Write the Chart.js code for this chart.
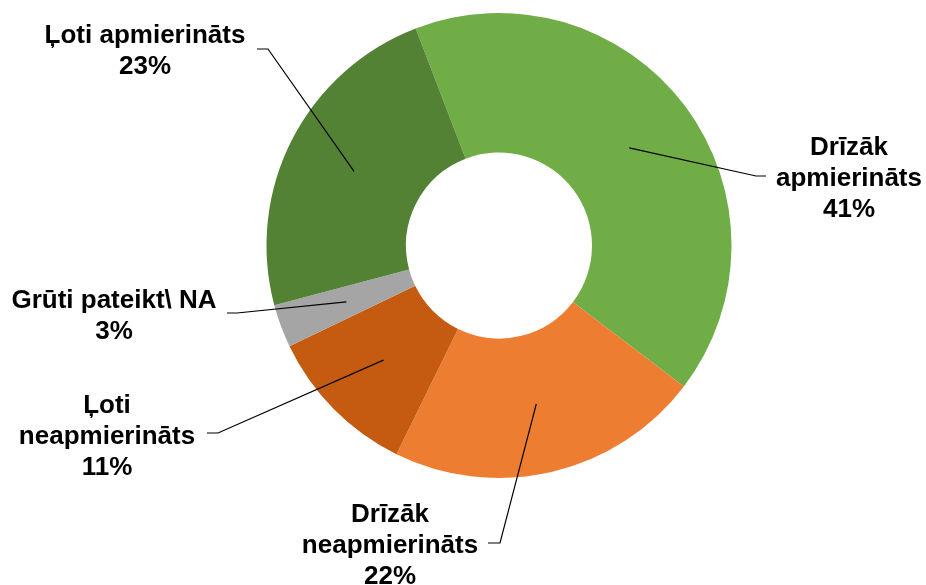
<!DOCTYPE html>
<html>
<head>
<meta charset="utf-8">
<script src="https://cdn.jsdelivr.net/npm/chart.js@4.4.0/dist/chart.umd.min.js"></script>
<style>
html,body{margin:0;padding:0;background:#fff;}
#wrap{width:926px;height:585px;position:relative;}
</style>
</head>
<body>
<div id="wrap"><canvas id="c" width="926" height="585"></canvas></div>
<script>
// Data
const categories = [
  ["Drīzāk", "apmierināts"],
  ["Drīzāk", "neapmierināts"],
  ["Ļoti", "neapmierināts"],
  ["Grūti pateikt\\ NA"],
  ["Ļoti apmierināts"]
];
const values = [41.2, 21.9, 10.6, 3.0, 23.3];
const colors = ["#70AD47", "#ED7D31", "#C55A11", "#A5A5A5", "#548235"];

// Label layout (text center x, first baseline y, elbow point, line end x)
const labelLayout = [
  {tx: 849, ty: 155, ex: 756, ey: 176, endX: 766},
  {tx: 390, ty: 522, ex: 500, ey: 543, endX: 488},
  {tx: 107, ty: 413, ex: 218, ey: 433, endX: 207},
  {tx: 114, ty: 308, ex: 237, ey: 313, endX: 227},
  {tx: 145, ty: 43,  ex: 268, ey: 49,  endX: 257}
];
const lineGap = 31;

const labelPlugin = {
  id: 'leaderLabels',
  afterDraw(chart) {
    const ctx = chart.ctx;
    const meta = chart.getDatasetMeta(0);
    const ds = chart.data.datasets[0].data;
    const total = ds.reduce((a, b) => a + b, 0);
    ctx.save();
    meta.data.forEach((arc, i) => {
      const p = arc.tooltipPosition();
      const L = labelLayout[i];
      ctx.strokeStyle = '#000';
      ctx.lineWidth = 1.2;
      ctx.beginPath();
      ctx.moveTo(p.x, p.y);
      ctx.lineTo(L.ex, L.ey);
      ctx.lineTo(L.endX, L.ey);
      ctx.stroke();
      const lines = chart.data.labels[i].concat([Math.round(ds[i] / total * 100) + '%']);
      ctx.fillStyle = '#000';
      ctx.font = 'bold 26px "Liberation Sans", Arial, sans-serif';
      ctx.textAlign = 'center';
      ctx.textBaseline = 'alphabetic';
      lines.forEach((t, k) => ctx.fillText(t, L.tx, L.ty + k * lineGap));
    });
    ctx.restore();
  }
};

new Chart(document.getElementById('c'), {
  type: 'doughnut',
  data: {
    labels: categories,
    datasets: [{
      data: values,
      backgroundColor: colors,
      borderWidth: 0
    }]
  },
  options: {
    responsive: false,
    animation: false,
    rotation: -21,
    cutout: '40%',
    layout: {padding: {top: 13, bottom: 107, left: 266.5, right: 194.5}},
    plugins: {legend: {display: false}, tooltip: {enabled: false}}
  },
  plugins: [labelPlugin]
});
</script>
</body>
</html>
